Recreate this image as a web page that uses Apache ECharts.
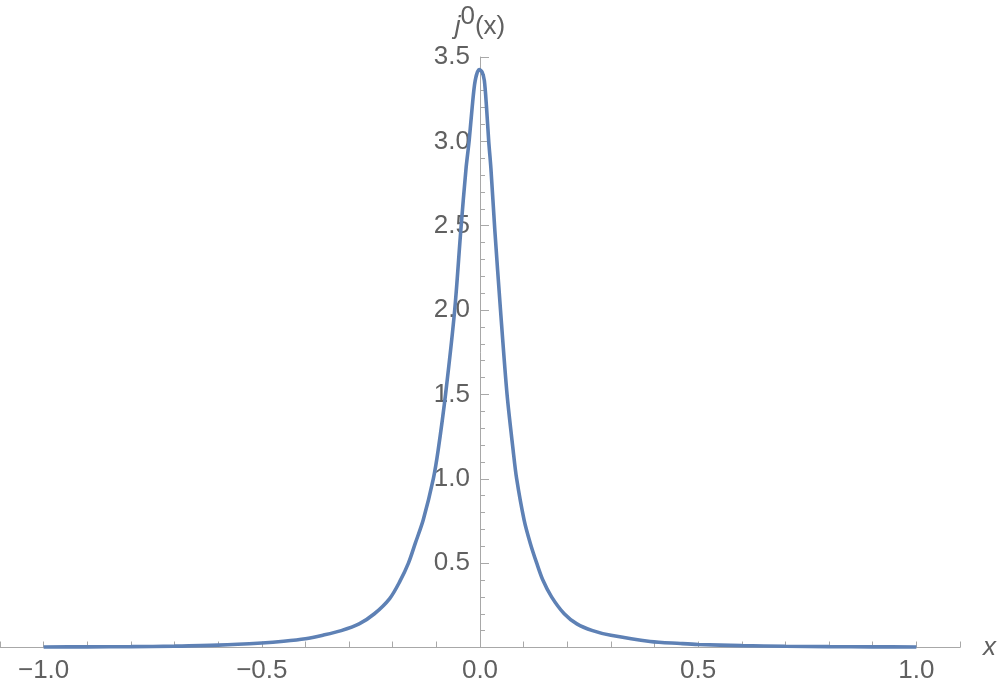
<!DOCTYPE html>
<html>
<head>
<meta charset="utf-8">
<script src="https://cdn.jsdelivr.net/npm/echarts@6/dist/echarts.min.js"></script>
<style>html,body{margin:0;padding:0;background:#fff;}#c{width:997px;height:691px;}</style>
</head>
<body>
<div id="c"></div>
<script>
// Curve samples
var xValues = [-1.0, -0.9, -0.8, -0.7, -0.6, -0.5, -0.45, -0.4, -0.36, -0.318, -0.277, -0.242, -0.207, -0.184, -0.164, -0.148, -0.130, -0.107, -0.096, -0.079, -0.058, -0.044, -0.032, -0.025, -0.018, -0.011, -0.002, 0.005, 0.010, 0.015, 0.020, 0.025, 0.034, 0.047, 0.062, 0.076, 0.084, 0.101, 0.115, 0.130, 0.144, 0.164, 0.193, 0.222, 0.258, 0.30, 0.39, 0.459, 0.5, 0.6, 0.7, 0.8, 0.9, 1.0];
var yValues = [0.003, 0.004, 0.005, 0.008, 0.014, 0.027, 0.037, 0.052, 0.073, 0.1, 0.14, 0.2, 0.29, 0.39, 0.5, 0.62, 0.757, 1.0, 1.168, 1.5, 2.0, 2.473, 2.84, 3.0, 3.2, 3.36, 3.425, 3.41, 3.36, 3.2, 3.0, 2.84, 2.473, 2.0, 1.5, 1.168, 1.0, 0.757, 0.62, 0.5, 0.4, 0.3, 0.2, 0.14, 0.1, 0.072, 0.036, 0.024, 0.018, 0.011, 0.007, 0.005, 0.004, 0.003];
var xRange = [-1.1, 1.1];
var yRange = [0, 3.5];
var xLabelValues = [-1.0, -0.5, 0.0, 0.5, 1.0];
var yLabelValues = [0.5, 1.0, 1.5, 2.0, 2.5, 3.0, 3.5];

var data = xValues.map(function (x, i) { return [x, yValues[i]]; });
var font = '"Liberation Sans", Arial, sans-serif';
var labelColor = '#606060';
var axisColor = '#a8a8a8';
var gridLeft = 0, gridWidth = 960;

function fmt(v) {
  var s = v.toFixed(1);
  return v < 0 ? '\u2212' + s.slice(1) : s;
}

var chart = echarts.init(document.getElementById('c'), null, {renderer: 'canvas'});
// y axis sits at x = 0: offset it from the grid's left edge by the x-scale position of 0
var zeroOffset = gridWidth * (0 - xRange[0]) / (xRange[1] - xRange[0]);
chart.setOption({
  animation: false,
  backgroundColor: '#ffffff',
  grid: {left: gridLeft, width: gridWidth, top: 57, bottom: 43.5, containLabel: false, outerBoundsMode: 'none'},
  xAxis: {
    type: 'value', min: xRange[0], max: xRange[1], interval: 0.1,
    name: 'x', nameLocation: 'end', nameGap: 23,
    nameTextStyle: {fontFamily: font, fontSize: 26, fontStyle: 'italic', color: labelColor, verticalAlign: 'middle', padding: [4, 0, 0, 0]},
    axisLine: {show: true, onZero: false, lineStyle: {color: axisColor, width: 1}},
    axisTick: {show: true, inside: true, length: 6, lineStyle: {color: axisColor}},
    splitLine: {show: false},
    axisLabel: {
      fontFamily: font, fontSize: 26, color: labelColor, margin: 10,
      formatter: function (v) {
        for (var i = 0; i < xLabelValues.length; i++) {
          if (Math.abs(v - xLabelValues[i]) < 1e-6) return fmt(xLabelValues[i]);
        }
        return '';
      }
    }
  },
  yAxis: {
    type: 'value', min: yRange[0], max: yRange[1], interval: 0.5,
    position: 'left', offset: -zeroOffset,
    name: '{j|j}{s|0}{p|(x)}', nameLocation: 'end', nameGap: 17,
    nameTextStyle: {
      align: 'center',
      rich: {
        j: {fontFamily: font, fontSize: 26, fontStyle: 'italic', color: labelColor, lineHeight: 36, verticalAlign: 'bottom'},
        s: {fontFamily: font, fontSize: 26, color: labelColor, lineHeight: 26, verticalAlign: 'top'},
        p: {fontFamily: font, fontSize: 26, color: labelColor, lineHeight: 36, verticalAlign: 'bottom'}
      }
    },
    axisLine: {show: true, onZero: false, lineStyle: {color: axisColor, width: 1}},
    axisTick: {show: true, inside: true, length: 9, lineStyle: {color: axisColor}},
    minorTick: {show: true, splitNumber: 5, length: 5, lineStyle: {color: axisColor}},
    splitLine: {show: false},
    axisLabel: {
      fontFamily: font, fontSize: 26, color: labelColor, margin: 10,
      formatter: function (v) {
        for (var i = 0; i < yLabelValues.length; i++) {
          if (Math.abs(v - yLabelValues[i]) < 1e-6) return yLabelValues[i].toFixed(1);
        }
        return '';
      }
    }
  },
  series: [{
    type: 'line', data: data, showSymbol: false, smooth: 0.3,
    lineStyle: {color: '#5E81B5', width: 3.6},
    z: 3
  }]
});
</script>
</body>
</html>
